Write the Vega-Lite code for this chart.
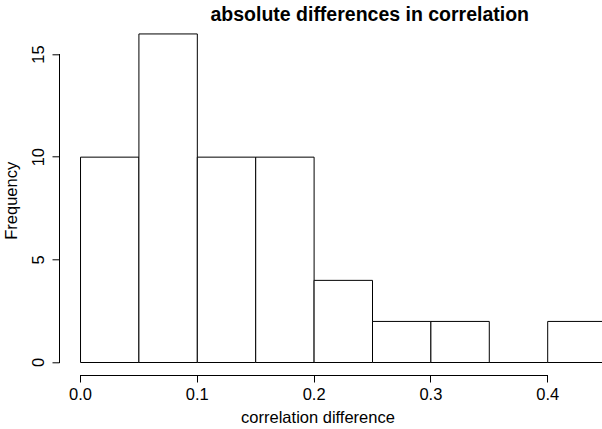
{
  "$schema": "https://vega.github.io/schema/vega-lite/v6.json",
  "width": 542.5,
  "height": 354.7,
  "autosize": {"type": "none"},
  "padding": {"left": 59.5, "top": 20.8, "right": 0, "bottom": 53.5},
  "background": "white",
  "config": {
    "view": {"stroke": null},
    "font": "Liberation Sans"
  },
  "title": {
    "text": "absolute differences in correlation",
    "fontSize": 19.5,
    "fontWeight": "bold",
    "font": "Liberation Sans",
    "color": "#000000",
    "anchor": "middle",
    "frame": "group",
    "baseline": "alphabetic",
    "offset": -20,
    "dx": 39
  },
  "data": {
    "values": [
      {"bin_start": 0.0, "bin_end": 0.05, "count": 10},
      {"bin_start": 0.05, "bin_end": 0.1, "count": 16},
      {"bin_start": 0.1, "bin_end": 0.15, "count": 10},
      {"bin_start": 0.15, "bin_end": 0.2, "count": 10},
      {"bin_start": 0.2, "bin_end": 0.25, "count": 4},
      {"bin_start": 0.25, "bin_end": 0.3, "count": 2},
      {"bin_start": 0.3, "bin_end": 0.35, "count": 2},
      {"bin_start": 0.35, "bin_end": 0.4, "count": 0},
      {"bin_start": 0.4, "bin_end": 0.45, "count": 2}
    ]
  },
  "layer": [
    {
      "mark": {"type": "rect", "fill": "white", "stroke": "#000000", "strokeWidth": 1, "clip": false},
      "encoding": {
        "x": {
          "field": "bin_start",
          "type": "quantitative",
          "scale": {"domain": [-0.018, 0.4465], "nice": false, "zero": false},
          "axis": {
            "title": "correlation difference",
            "titleFont": "Liberation Sans",
            "titleFontSize": 16.5,
            "titleFontWeight": "normal",
            "titleColor": "#000000",
            "titleX": 258.5,
            "titleY": 47.4,
            "titleAlign": "center",
            "titleBaseline": "alphabetic",
            "values": [0, 0.1, 0.2, 0.3, 0.4],
            "format": ".1f",
            "domain": false,
            "grid": false,
            "translate": 0,
            "tickSize": 7,
            "tickColor": "#000000",
            "labelFont": "Liberation Sans",
            "labelFontSize": 16.5,
            "labelColor": "#000000",
            "labelBaseline": "alphabetic",
            "labelPadding": 17.5,
            "labelOverlap": false,
            "labelFlush": false
          }
        },
        "x2": {"field": "bin_end"},
        "y": {
          "field": "count",
          "type": "quantitative",
          "scale": {"domain": [-0.633, 16.64], "nice": false, "zero": false},
          "axis": {
            "title": "Frequency",
            "titleFont": "Liberation Sans",
            "titleFontSize": 16.5,
            "titleFontWeight": "normal",
            "titleColor": "#000000",
            "titleAngle": 270,
            "titleX": -42.2,
            "titleY": 180,
            "titleAlign": "center",
            "titleBaseline": "alphabetic",
            "values": [0, 5, 10, 15],
            "domain": false,
            "grid": false,
            "translate": 0,
            "tickSize": 7,
            "tickColor": "#000000",
            "labelAngle": -90,
            "labelAlign": "center",
            "labelBaseline": "alphabetic",
            "labelFont": "Liberation Sans",
            "labelFontSize": 16.5,
            "labelColor": "#000000",
            "labelPadding": 9,
            "labelOverlap": false,
            "labelFlush": false
          }
        },
        "y2": {"datum": 0}
      }
    },
    {
      "mark": {"type": "rule", "color": "#000000", "strokeWidth": 1},
      "encoding": {
        "x": {"datum": 0},
        "x2": {"datum": 0.4},
        "y": {"datum": -0.633}
      }
    },
    {
      "mark": {"type": "rule", "color": "#000000", "strokeWidth": 1},
      "encoding": {
        "x": {"datum": -0.018},
        "y": {"datum": 0},
        "y2": {"datum": 15}
      }
    }
  ]
}
